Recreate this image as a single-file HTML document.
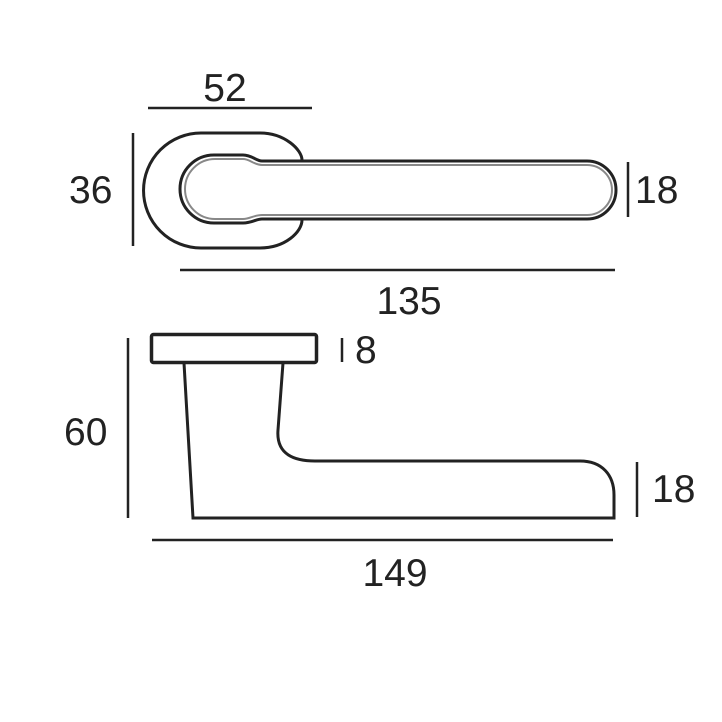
<!DOCTYPE html>
<html><head><style>
html,body{margin:0;padding:0;background:#fff;}
svg{display:block;}
text{font-family:"Liberation Sans",sans-serif;font-size:39px;fill:#222;}
</style></head><body>
<svg width="722" height="722" viewBox="0 0 722 722">
<g fill="none" stroke="#222" stroke-width="3">
<path d="M201,133 H260 C285,133 302,150 302,160 M302,220 C302,232 285,248 260,248 H201 A57.5,57.5 0 0 1 201,133"/>
<path d="M214,155 H243 C252,155 256,161 262,161 H587 A29,29 0 0 1 587,219 H262 C256,219 252,223 243,223 H214 A34,34 0 0 1 214,155 Z"/>
<path d="M215,159 H243 C250,159 254,165 262,165 H587 A25,25 0 0 1 587,215 H262 C254,215 250,219 243,219 H215 A30,30 0 0 1 215,159 Z" stroke="#888" stroke-width="2"/>
<rect x="151.5" y="334.5" width="165" height="28" rx="2" stroke-width="3.5"/>
<path d="M184,363 L193,518 H614 V495 C614,475 602,461 580,461 H315 C295,461 276,455 278,430 L283,363"/>
</g>
<g stroke="#222" stroke-width="2.5">
<line x1="148" y1="108" x2="312" y2="108"/>
<line x1="133" y1="133" x2="133" y2="246"/>
<line x1="628" y1="162" x2="628" y2="217"/>
<line x1="180" y1="270" x2="615" y2="270"/>
<line x1="342" y1="338" x2="342" y2="362"/>
<line x1="128" y1="338" x2="128" y2="518"/>
<line x1="637" y1="462" x2="637" y2="517"/>
<line x1="152" y1="540" x2="613" y2="540"/>
</g>
<text x="225" y="101" text-anchor="middle">52</text>
<text x="69" y="203">36</text>
<text x="635" y="203">18</text>
<text x="409" y="314" text-anchor="middle">135</text>
<text x="355" y="363">8</text>
<text x="64" y="445">60</text>
<text x="652" y="502">18</text>
<text x="395" y="586" text-anchor="middle">149</text>
</svg>
</body></html>
